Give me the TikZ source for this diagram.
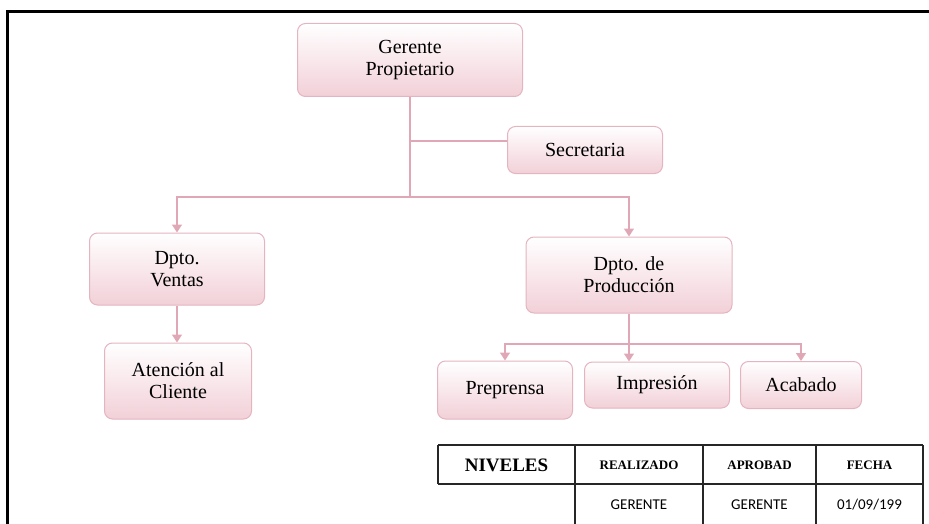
\documentclass[tikz,border=0pt]{standalone}
\usepackage{fontspec}
\setmainfont{Liberation Serif}
\newfontfamily\calfont{Carlito}
\usepackage{tikz}
\usetikzlibrary{calc,arrows.meta}
\usepackage{xcolor}
\definecolor{bordepink}{RGB}{228,180,192}
\definecolor{lineapink}{RGB}{224,168,182}
\definecolor{fondopink}{RGB}{242,208,216}
\tikzset{
	caja/.style={draw=bordepink,line width=1pt,rounded corners=8pt,top color=white,bottom color=fondopink,align=center,inner sep=0pt,font=\fontsize{20}{22}\selectfont},
	linea/.style={draw=lineapink,line width=1.3pt},
	flecha/.style={linea,-{Triangle[width=10pt,length=8pt]}},
	tabla/.style={line width=1.8pt,black!85},
	cabeza/.style={font=\fontsize{13}{15}\selectfont\bfseries},
	dato/.style={font=\fontsize{15}{17}\selectfont\calfont}
}
\newcommand{\celda}[2]{\draw[tabla] (#1,445) -- (#1,#2);}

\begin{document}
\begin{tikzpicture}[x=1pt,y=-1pt]
		\useasboundingbox (0,0) rectangle (929,524);
		\clip (0,0) rectangle (929,524);
		
		% marco
		\draw[line width=3pt] (929,12) -- (7,12) -- (7,524);
		
		\node[caja,minimum width=225pt,minimum height=73pt] (ger) at (410,60) {Gerente\\Propietario};
		\node[caja,minimum width=155pt,minimum height=47pt] (sec) at (585,150) {Secretaria};
		\node[caja,minimum width=175pt,minimum height=72pt] (ven) at (177,269) {Dpto.\\Ventas};
		\node[caja,minimum width=147pt,minimum height=76pt] (ate) at (178,381) {Atención al\\Cliente};
		\node[caja,minimum width=206pt,minimum height=76pt] (pro) at (629,275) {Dpto. de\\Producción};
		\node[caja,minimum width=135pt,minimum height=58pt] (pre) at (505,390) {Preprensa};
		\node[caja,minimum width=145pt,minimum height=46pt] (imp) at (657,385) {Impresión};
		\node[caja,minimum width=121pt,minimum height=47pt] (aca) at (801,385) {Acabado};
		
		\coordinate (nivel1) at (0,197);
		\coordinate (nivel2) at (0,344);
		\coordinate (rama) at ($(sec.west)+(0,-9)$);
		
		\draw[linea] (ger.south) -- (ger.south |- nivel1);
		\draw[linea] (ger.south |- rama) -- (rama);
		\draw[flecha] (ger.south |- nivel1) -| (ven.north);
		\draw[flecha] (ger.south |- nivel1) -| (pro.north);
		\draw[flecha] (ven.south) -- (ven.south |- ate.north);
		
		\draw[linea] (pro.south) -- (pro.south |- nivel2);
		\draw[flecha] (pro.south |- nivel2) -| (pre.north);
		\draw[flecha] (pro.south |- nivel2) -- (pro.south |- imp.north);
		\draw[flecha] (pro.south |- nivel2) -| (aca.north);
		
		% tabla
		\draw[tabla] (438,445) -- (923,445);
		\draw[tabla] (438,484) -- (923,484);
		\draw[tabla] (438,445) -- (438,484);
		\celda{575}{524}
		\celda{703}{524}
		\celda{816}{524}
		\celda{923}{524}
		
		\node[font=\fontsize{19}{21}\selectfont\bfseries] (niv) at (506.5,465) {NIVELES};
		\node[cabeza] (rea) at (639,465) {REALIZADO};
		\node[cabeza] (apr) at (759.5,465) {APROBAD};
		\node[cabeza] (fec) at (869.5,465) {FECHA};
		\node[dato] (ger2) at (639,505) {GERENTE};
		\node[dato] (apr2) at (759.5,505) {GERENTE};
		\node[dato] (fec2) at (869.5,505) {01/09/199};
		
	\end{tikzpicture}
\end{document}
